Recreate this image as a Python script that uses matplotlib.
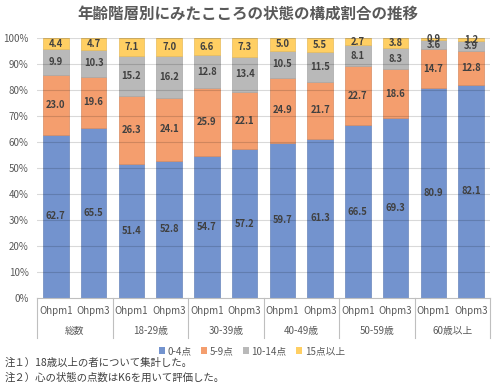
import matplotlib
matplotlib.use("Agg")
import matplotlib.pyplot as plt
import matplotlib.transforms as mtransforms
from matplotlib.patches import Patch
import numpy as np

plt.rcParams['font.family'] = ['Noto Sans CJK JP', 'DejaVu Sans']

groups = ["総数", "18-29歳", "30-39歳", "40-49歳", "50-59歳", "60歳以上"]
subs = ["Ohpm1", "Ohpm3"]
series_names = ["0-4点", "5-9点", "10-14点", "15点以上"]
s0_4 = [62.7, 65.5, 51.4, 52.8, 54.7, 57.2, 59.7, 61.3, 66.5, 69.3, 80.9, 82.1]
s5_9 = [23.0, 19.6, 26.3, 24.1, 25.9, 22.1, 24.9, 21.7, 22.7, 18.6, 14.7, 12.8]
s10_14 = [9.9, 10.3, 15.2, 16.2, 12.8, 13.4, 10.5, 11.5, 8.1, 8.3, 3.6, 3.9]
s15 = [4.4, 4.7, 7.1, 7.0, 6.6, 7.3, 5.0, 5.5, 2.7, 3.8, 0.9, 1.2]
yticks = [0, 10, 20, 30, 40, 50, 60, 70, 80, 90, 100]
title = "年齢階層別にみたこころの状態の構成割合の推移"
notes = ["注１）18歳以上の者について集計した。", "注２）心の状態の点数はK6を用いて評価した。"]

colors = ["#7393CE", "#F49E6E", "#B9B9B9", "#FFCF63"]
edges = ["#6A86BC", "#D98B60", "#A8A8A8", "#E8BC5A"]
txt_color = "#404040"
axis_color = "#595959"

fig = plt.figure(figsize=(4.96, 3.88), dpi=100)
ax = fig.add_axes([37/496, 1-298/388, (490-37)/496, (298-38)/388])

n = len(s0_4)
x = np.arange(n)
bottom = np.zeros(n)
data = [s0_4, s5_9, s10_14, s15]
for vals, c, ec in zip(data, colors, edges):
    vals = np.array(vals)
    ax.bar(x, vals, bottom=bottom, width=0.67, color=c, edgecolor=ec, linewidth=0.5, zorder=2)
    for xi, b, v in zip(x, bottom, vals):
        ax.text(xi, b + v/2, f"{v:.1f}", ha='center', va='center', fontsize=6.8,
                color=txt_color, fontweight='semibold', zorder=5)
    bottom += vals

ax.set_xlim(-0.5, n-0.5)
ax.set_ylim(0, 100)
ax.set_yticks(yticks)
ax.set_yticklabels([f"{t}%" for t in yticks], fontsize=7, color=axis_color)
for t in yticks[1:]:
    ax.axhline(t, color='black', alpha=0.15, linewidth=0.8, zorder=3)
ax.tick_params(axis='y', length=0, pad=6)
ax.tick_params(axis='x', length=0, labelbottom=False)
for s in ['top', 'right', 'left']:
    ax.spines[s].set_visible(False)
ax.spines['bottom'].set_color('#BFBFBF')
ax.spines['bottom'].set_linewidth(0.8)

trans = mtransforms.blended_transform_factory(ax.transData, ax.transAxes)
for i in range(n):
    ax.text(x[i], -0.05, subs[i % 2], transform=trans, ha='center', va='center',
            fontsize=7, color=axis_color)
for g, name in enumerate(groups):
    ax.text(2*g + 0.5, -0.126, name, transform=trans, ha='center', va='center',
            fontsize=7, color=axis_color)
for g in range(len(groups)+1):
    xs = 2*g - 0.5
    ax.plot([xs, xs], [0, -0.155], transform=trans, color='#BFBFBF', linewidth=0.8, clip_on=False)

fig.text(0.5, 1-15/388, title, ha='center', va='center', fontsize=11.2, fontweight='bold', color=axis_color)

handles = [Patch(facecolor=c, edgecolor='none') for c in colors]
fig.legend(handles, series_names, loc='center', bbox_to_anchor=(252/496, 1-351/388), ncol=4,
           frameon=False, fontsize=7, handlelength=0.6, handleheight=0.6, handletextpad=0.25,
           columnspacing=1.0, labelcolor=axis_color)

fig.text(5/496, 1-363/388, notes[0], ha='left', va='center', fontsize=7.5, color='#404040')
fig.text(5/496, 1-378/388, notes[1], ha='left', va='center', fontsize=7.5, color='#404040')

fig.savefig("out.png", dpi=100)
